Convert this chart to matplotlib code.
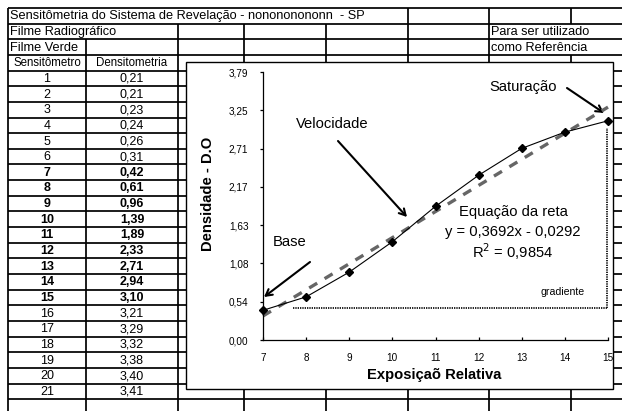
import matplotlib
matplotlib.use("Agg")
import matplotlib.pyplot as plt
from matplotlib.patches import Rectangle
import numpy as np

plt.rcParams['font.family'] = ['Liberation Sans', 'DejaVu Sans']

# ---------------- data ----------------
title_text = "Sensitômetria do Sistema de Revelação - nonononononn  - SP"
row1_text = "Filme Radiográfico"
row2_text = "Filme Verde"
note1 = "Para ser utilizado"
note2 = "como Referência"
col_headers = ["Sensitômetro", "Densitometria"]
steps = list(range(1, 22))
densities = [0.21, 0.21, 0.23, 0.24, 0.26, 0.31, 0.42, 0.61, 0.96, 1.39,
             1.89, 2.33, 2.71, 2.94, 3.10, 3.21, 3.29, 3.32, 3.38, 3.40, 3.41]
bold_steps = list(range(7, 16))

chart_x = [7, 8, 9, 10, 11, 12, 13, 14, 15]
chart_y = [0.42, 0.61, 0.96, 1.39, 1.89, 2.33, 2.71, 2.94, 3.10]
slope, intercept = 0.3692, -0.0292
r2 = 0.9854
ytick_labels = ["0,00", "0,54", "1,08", "1,63", "2,17", "2,71", "3,25", "3,79"]
y_max = 3.79

W, H = 622, 411
fig = plt.figure(figsize=(W / 100, H / 100), dpi=100)
bg = fig.add_axes([0, 0, 1, 1])
bg.set_xlim(0, W)
bg.set_ylim(H, 0)
bg.axis('off')

# ---------------- table grid ----------------
cols = [8, 86, 178, 244, 326, 408, 489, 571]
top = 8
rh = 15.65
nrows = 26
ys = [top + k * rh for k in range(nrows + 1)]
lw = 1.25
for y in ys:
    bg.plot([8, W], [y, y], color='black', lw=lw, zorder=1, solid_capstyle='butt')

# which rows show each vertical line (row index 0 = title)
hidden = {
    8: [],
    86: [0, 1],
    178: [0],
    244: [0],
    326: [0],
    408: [],
    489: [],
    571: [1, 2],
}
for x in cols:
    for r in range(nrows):
        if r in hidden[x]:
            continue
        bg.plot([x, x], [ys[r], ys[r + 1]], color='black', lw=lw, zorder=1,
                solid_capstyle='butt')

def cy(r):
    return (ys[r] + ys[r + 1]) / 2 + 0.5

bg.text(10, cy(0), title_text, fontsize=9.2, va='center', ha='left', zorder=3)
bg.text(10, cy(1), row1_text, fontsize=9.2, va='center', ha='left', zorder=3)
bg.text(10, cy(2), row2_text, fontsize=9.2, va='center', ha='left', zorder=3)
bg.text(491, cy(1), note1, fontsize=9.2, va='center', ha='left', zorder=3)
bg.text(491, cy(2), note2, fontsize=9.2, va='center', ha='left', zorder=3)
bg.text(47, cy(3), col_headers[0], fontsize=8.3, va='center', ha='center', zorder=3)
bg.text(132, cy(3), col_headers[1], fontsize=8.3, va='center', ha='center', zorder=3)
for i, (s, d) in enumerate(zip(steps, densities)):
    r = 4 + i
    fw = 'bold' if s in bold_steps else 'normal'
    bg.text(47, cy(r), str(s), fontsize=9, va='center', ha='center', fontweight=fw, zorder=3)
    bg.text(132, cy(r), f"{d:.2f}".replace('.', ','), fontsize=9, va='center',
            ha='center', fontweight=fw, zorder=3)

# ---------------- chart area ----------------
bg.add_patch(Rectangle((186, 62), 613 - 186, 389 - 62, facecolor='white',
                       edgecolor='black', lw=1.0, zorder=5))

px_l, px_r, px_t, px_b = 263, 608, 72, 340
ax = fig.add_axes([px_l / W, (H - px_b) / H, (px_r - px_l) / W, (px_b - px_t) / H])
ax.set_facecolor('none')
ax.set_zorder(6)
ax.set_xlim(7, 15)
ax.set_ylim(0, y_max)
for s in ['top', 'right']:
    ax.spines[s].set_visible(False)
for s in ['left', 'bottom']:
    ax.spines[s].set_linewidth(0.9)
yt = np.linspace(0, y_max, len(ytick_labels))
ax.set_yticks(yt)
ax.set_yticklabels(ytick_labels)
ax.set_xticks(chart_x)
ax.set_xticklabels([str(v) for v in chart_x])
ax.tick_params(axis='y', direction='out', length=2.5, width=0.9, labelsize=7.2, pad=8)
ax.tick_params(axis='x', direction='in', length=2.5, width=0.9, labelsize=7.2, pad=9)

# trend line (Excel trendline over point index 1..n)
idx = np.arange(1, len(chart_x) + 1)
trend = slope * idx + intercept
ax.plot(chart_x, trend, color='#666666', lw=2.4, dashes=(2.8, 2.6), zorder=2,
        clip_on=False)
ax.plot(chart_x, chart_y, color='black', lw=0.8, marker='D', markersize=3.8,
        zorder=3, clip_on=False)

# gradiente dotted guides
grad_x0, grad_x1, grad_y0, grad_y1 = 7.70, 14.98, 0.45, 3.0
ax.plot([grad_x0, grad_x1], [grad_y0, grad_y0], color='black', lw=1.2,
        linestyle=(0, (0.8, 0.6)), zorder=2, clip_on=False)
ax.plot([grad_x1, grad_x1], [grad_y0, grad_y1], color='black', lw=1.2,
        linestyle=(0, (0.8, 0.6)), zorder=2, clip_on=False)

# texts on chart (pixel coords)
fs = 10.6
bg.text(208, 194, "Densidade - D.O", rotation=90, fontsize=10.6, fontweight='bold',
        ha='center', va='center', zorder=10)
bg.text(434.5, 375, "Exposiçaõ Relativa", fontsize=10.6, fontweight='bold',
        ha='center', va='center', zorder=10)
bg.text(513, 212, "Equação da reta", fontsize=fs, ha='center', va='center', zorder=10)
bg.text(513, 232, "y = 0,3692x - 0,0292", fontsize=fs, ha='center', va='center', zorder=10)
bg.text(513, 252, "R$^2$ = " + f"{r2}".replace('.', ','), fontsize=fs, ha='center',
        va='center', zorder=10)
bg.text(563, 292, "gradiente", fontsize=7.6, ha='center', va='center', zorder=10)
bg.text(332, 124, "Velocidade", fontsize=fs, ha='center', va='center', zorder=10)
bg.text(523, 87, "Saturação", fontsize=fs, ha='center', va='center', zorder=10)
bg.text(290, 242, "Base", fontsize=fs, ha='center', va='center', zorder=10)

arrow_kw = dict(arrowstyle='->,head_length=0.45,head_width=0.25', color='black',
                lw=1.5, shrinkA=0, shrinkB=0)
bg.annotate("", xy=(407, 217), xytext=(338, 141), arrowprops=arrow_kw, zorder=10)
bg.annotate("", xy=(604, 113), xytext=(567, 88), arrowprops=arrow_kw, zorder=10)
bg.annotate("", xy=(264, 297), xytext=(310, 262), arrowprops=arrow_kw, zorder=10)

fig.savefig("out.png", dpi=100)
